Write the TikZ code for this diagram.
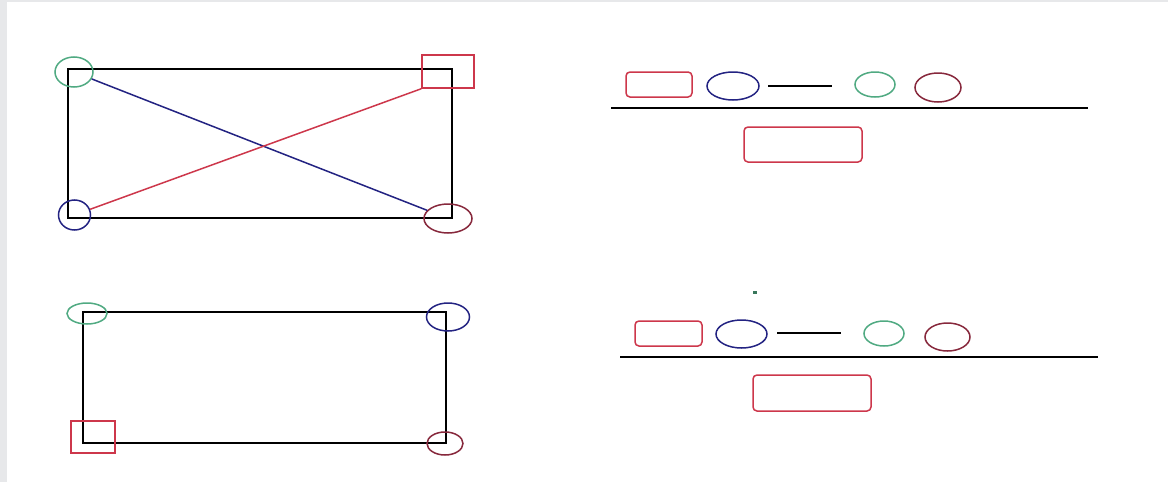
\documentclass[tikz,border=0pt]{standalone}
\usetikzlibrary{shapes.geometric}
\definecolor{cgreen}{RGB}{80,170,130}
\definecolor{cblue}{RGB}{35,35,130}
\definecolor{cred}{RGB}{205,55,75}
\definecolor{cdred}{RGB}{135,40,60}
\definecolor{cgray}{RGB}{231,232,234}
\begin{document}
\begin{tikzpicture}[x=1pt,y=-1pt,
  ell/.style={ellipse,draw,line width=1.5pt,inner sep=0pt},
  sq/.style={rectangle,draw=cred,line width=1.5pt,inner sep=0pt},
  rbox/.style={rectangle,rounded corners=4pt,draw=cred,line width=1.5pt,inner sep=0pt},
  frame/.style={draw=black,line width=2.3pt},
  bar/.style={draw=black,line width=1.8pt}]
\useasboundingbox (0,0) rectangle (1168,482);
\fill[cgray] (0,0) rectangle (1168,482);
\fill[white] (7,2) rectangle (1168,482);

% top-left figure
\draw[frame] (68,69) rectangle (452,218);
\node[ell,draw=cgreen,minimum width=38pt,minimum height=30pt] (g1) at (74,72) {};
\node[ell,draw=cblue,minimum width=32pt,minimum height=30pt] (b1) at (74.5,215) {};
\node[sq,minimum width=52pt,minimum height=33pt] (r1) at (448,71.5) {};
\node[ell,draw=cdred,minimum width=48pt,minimum height=29pt] (d1) at (448,218.5) {};
\draw[cblue,line width=1.5pt] (g1) -- (d1);
\draw[cred,line width=1.5pt] (b1) -- (r1.south west);

% bottom-left figure
\draw[frame] (83,312) rectangle (446,443);
\node[ell,draw=cgreen,minimum width=40pt,minimum height=21pt] (g2) at (87,313.5) {};
\node[ell,draw=cblue,minimum width=43pt,minimum height=28pt] (b2) at (448,317) {};
\node[sq,minimum width=44pt,minimum height=32pt] (r2) at (93,437) {};
\node[ell,draw=cdred,minimum width=36pt,minimum height=23pt] (d2) at (445,443.5) {};

% top-right formula
\node[rbox,minimum width=66pt,minimum height=25pt] (fr1) at (659,84.5) {};
\node[ell,draw=cblue,minimum width=52pt,minimum height=28pt] (fb1) at (733,86) {};
\coordinate (l1a) at (768,86);
\coordinate (l1b) at (832,86);
\draw[bar] (l1a) -- (l1b);
\node[ell,draw=cgreen,minimum width=40pt,minimum height=25pt] (fg1) at (875,84.5) {};
\node[ell,draw=cdred,minimum width=46pt,minimum height=29pt] (fd1) at (938,87.5) {};
\coordinate (h1a) at (611,108);
\coordinate (h1b) at (1088,108);
\draw[bar] (h1a) -- (h1b);
\node[rbox,minimum width=118pt,minimum height=35pt] (fR1) at (803,144.5) {};

% bottom-right formula
\fill[cgreen!70!black] (752.5,291) rectangle (756.5,293.5);
\node[rbox,minimum width=67pt,minimum height=25pt] (fr2) at (668.5,333.5) {};
\node[ell,draw=cblue,minimum width=51pt,minimum height=28pt] (fb2) at (741.5,334) {};
\coordinate (l2a) at (777,333);
\coordinate (l2b) at (841,333);
\draw[bar] (l2a) -- (l2b);
\node[ell,draw=cgreen,minimum width=40pt,minimum height=25pt] (fg2) at (884,333.5) {};
\node[ell,draw=cdred,minimum width=45pt,minimum height=28pt] (fd2) at (947.5,337) {};
\coordinate (h2a) at (620,357);
\coordinate (h2b) at (1098,357);
\draw[bar] (h2a) -- (h2b);
\node[rbox,minimum width=118pt,minimum height=36pt] (fR2) at (812,393) {};
\end{tikzpicture}
\end{document}
